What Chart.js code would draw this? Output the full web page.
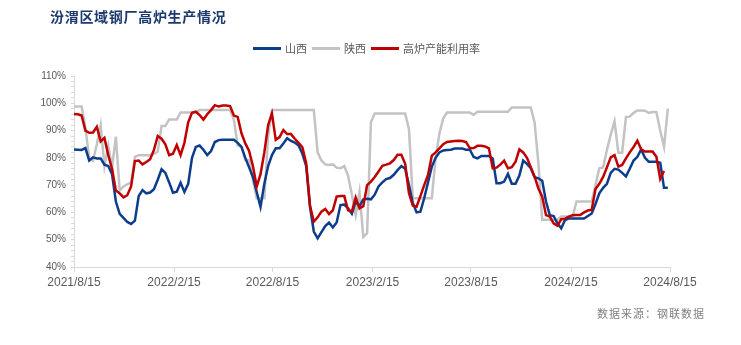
<!DOCTYPE html>
<html>
<head>
<meta charset="utf-8">
<title>汾渭区域钢厂高炉生产情况</title>
<script src="https://cdn.jsdelivr.net/npm/chart.js@4.4.1/dist/chart.umd.min.js"></script>
<style>
    html, body { margin: 0; padding: 0; background: #fff; }
    #wrap { position: relative; width: 741px; height: 345px; overflow: hidden; font-family: "Noto Sans CJK SC", sans-serif; }
    #chart { position: absolute; left: 0; top: 0; }
    #title { position: absolute; left: 50px; top: 9px; font-size: 14px; line-height: 14px; font-weight: 700; color: #1d3a6f; letter-spacing: 0.7px; white-space: nowrap; }
    #legend { position: absolute; left: 253px; top: 42px; display: flex; align-items: center; font-size: 11px; line-height: 12px; color: #595959; white-space: nowrap; }
    #legend .item { display: flex; align-items: center; margin-right: 5px; }
    #legend .swatch { width: 28px; height: 3px; margin-right: 4px; }
    #source { position: absolute; left: 597px; top: 307px; font-size: 11px; line-height: 12px; color: #808080; letter-spacing: 1px; white-space: nowrap; }
</style>
</head>
<body>
<div id="wrap">
    <canvas id="chart" width="741" height="345"></canvas>
    <div id="title">汾渭区域钢厂高炉生产情况</div>
    <div id="legend"></div>
    <div id="source">数据来源：钢联数据</div>
</div>
<script>
// 周度数据，起点 2021/8/15，每周一个点（单位：%）
const seriesNames = ['山西', '陕西', '高炉产能利用率'];
const seriesColors = ['#0c3d8c', '#c3c3c3', '#c00000'];

const tickLabels = ['2021/8/15', '2022/2/15', '2022/8/15', '2023/2/15', '2023/8/15', '2024/2/15', '2024/8/15'];
const tickDays = [0, 184, 365, 549, 730, 914, 1096];

const shanxi = [
    83.1, 83, 82.9, 83.6, 79, 80.2, 79.8, 79.8, 77.5, 77,
    74, 64, 59.5, 58, 56.5, 55.8, 57, 66, 68.2, 67,
    67.3, 68.5, 72, 75.8, 74.5, 71, 67.2, 67.6, 70.9, 67.5,
    70.5, 80, 84, 84.5, 83, 81, 82.5, 85.8, 86.5, 86.6,
    86.6, 86.6, 86.6, 85.5, 84, 80, 76.5, 73, 67.5, 62,
    70.5, 77, 81, 83.5, 83.5, 85.3, 87.2, 86.2, 85.6, 84.5,
    81.5, 77, 62, 53, 50.5, 52.8, 55, 56.3, 54.5, 56.3,
    62.7, 62.9, 61.5, 59.5, 64, 62.3, 64.8, 65, 64.8, 66.5,
    69.5, 71, 72.2, 72.6, 73.8, 75.5, 77, 76, 70, 63.5,
    60, 60.3, 65.2, 71, 76.8, 80, 82, 82.7, 82.9, 83,
    83.4, 83.4, 83.4, 83, 83, 80.3, 79.8, 80.7, 80.7, 80.7,
    79.8, 70.7, 70.7, 71.3, 74.1, 70.5, 70.5, 73.5, 79, 77.8,
    76.2, 72.9, 72.5, 71.6, 64, 59, 58.7, 56, 54.2, 57.2,
    57.8, 57.8, 57.8, 57.8, 57.8, 58.7, 59.6, 63.1, 67, 69,
    70.5, 74.5, 76, 75.7, 74.5, 73.2, 76, 79, 80.4, 83.1,
    80, 78.6, 78.6, 78.6, 78.2, 69, 69
];

const shaanxi = [
    98.8, 98.8, 98.8, 91, 80, 79, 85, 92, 77, 84.4,
    76.5, 87.8, 68, 69.5, 70.3, 71, 80.4, 81, 81, 81,
    81, 81.5, 82.3, 91.7, 91.7, 94.1, 94.1, 94.1, 96.6, 96.6,
    96.6, 96.6, 96.6, 97.5, 97.5, 97.5, 97.5, 97.5, 97.5, 97.5,
    97.5, 97.5, 94, 84.5, 84, 79.2, 79.2, 72, 65.2, 65.2,
    65.2, 88, 97.5, 97.5, 97.5, 97.5, 97.5, 97.5, 97.5, 97.5,
    97.5, 97.5, 97.5, 97.5, 82, 79, 77.6, 77.4, 77.6, 76.4,
    76.2, 77, 73.5, 66.5, 59, 67.5, 51, 52.4, 93, 96.3,
    96.3, 96.3, 96.3, 96.3, 96.3, 96.3, 96.3, 96.3, 90.5, 65.2,
    65.2, 65.2, 65.2, 65.2, 65.2, 80, 89, 94.5, 96.6, 96.6,
    96.6, 96.6, 96.6, 96.6, 96.6, 95.8, 96.9, 96.9, 96.9, 96.9,
    96.9, 96.9, 96.9, 96.9, 96.9, 98.5, 98.5, 98.5, 98.5, 98.5,
    98.5, 93, 78, 57.3, 57.3, 57.3, 57.3, 57.3, 58.5, 58.5,
    58.5, 58.5, 64, 64, 64, 64, 64, 70, 76.2, 76.5,
    82.9, 88.5, 93.4, 81.9, 81.9, 95, 95.1, 96.5, 97.4, 97.4,
    97.3, 96.5, 96.8, 96.8, 90, 84, 98
];

const utilization = [
    96.1, 96, 95.5, 90, 89.2, 89.3, 91.4, 86, 87.3, 81,
    76, 68, 67, 65.5, 66.3, 69.5, 78.8, 79, 77.6, 78.5,
    79.5, 82.9, 88, 87, 85, 81, 81.5, 84.7, 81, 85.5,
    93, 96.5, 96.9, 95.7, 94, 96, 97.5, 99.3, 98.8, 99.2,
    99.2, 99, 95.5, 95, 89, 85.3, 82.5, 77, 69.5, 74,
    82, 92, 96.3, 86.6, 87.6, 90.2, 88.7, 88.7, 87, 85.5,
    83.9, 78, 62.5, 56.6, 58.2, 60.3, 61.3, 59.4, 60.8, 65.8,
    66, 66, 60.8, 60.3, 65.5, 61.5, 62.3, 70, 71.3, 73,
    75, 77.1, 77.5, 78, 79.2, 81.1, 81.1, 77.8, 67, 62.5,
    62.1, 66, 70, 73.7, 80.8, 82, 83.5, 85, 85.8, 86,
    86.2, 86.3, 86.2, 85.8, 83.5, 83.6, 84.4, 84.4, 84.2, 83.5,
    76.2, 76.4, 77.5, 79, 76.2, 76.6, 78.6, 83.1, 82, 80,
    76.6, 73.1, 68.8, 65.8, 59, 58.5, 56, 55.1, 57.5, 57.7,
    58.5, 59, 59.1, 59.1, 60, 60.7, 61, 68.6, 70.5, 73,
    76.5, 80.2, 81, 76.8, 77.4, 79.8, 82, 84, 86.3, 83.1,
    82.3, 82.3, 82.3, 80.4, 72.3, 75.2
];

const labelColor = '#595959';
const axisColor = '#d9d9d9';

function toPoints(values) {
    return values.map((v, i) => ({ x: i * 7, y: v }));
}

function makeDataset(values, idx, order) {
    return {
        label: seriesNames[idx],
        data: toPoints(values),
        borderColor: seriesColors[idx],
        backgroundColor: seriesColors[idx],
        borderWidth: 2.5,
        pointRadius: 0,
        tension: 0,
        order: order
    };
}

function renderLegend() {
    const box = document.getElementById('legend');
    seriesNames.forEach((name, i) => {
        const item = document.createElement('div');
        item.className = 'item';
        item.innerHTML = `<span class="swatch" style="background:${seriesColors[i]}"></span><span>${name}</span>`;
        box.appendChild(item);
    });
}

function renderChart() {
    const ctx = document.getElementById('chart').getContext('2d');
    new Chart(ctx, {
        type: 'line',
        data: {
            datasets: [
                makeDataset(shanxi, 0, 1),
                makeDataset(shaanxi, 1, 2),
                makeDataset(utilization, 2, 0)
            ]
        },
        options: {
            responsive: false,
            animation: false,
            devicePixelRatio: 1,
            layout: { padding: { left: 0, right: 71, top: 76, bottom: 48 } },
            plugins: {
                legend: { display: false },
                title: { display: false },
                tooltip: { enabled: false }
            },
            scales: {
                x: {
                    type: 'linear',
                    min: tickDays[0],
                    max: tickDays[tickDays.length - 1],
                    afterBuildTicks: scale => { scale.ticks = tickDays.map(v => ({ value: v })); },
                    afterFit: scale => { scale.height = 30; },
                    grid: { drawOnChartArea: false, tickLength: 5, color: axisColor },
                    border: { color: axisColor },
                    ticks: {
                        autoSkip: false,
                        maxRotation: 0,
                        padding: 3,
                        color: labelColor,
                        font: { family: 'Liberation Sans, Arial, sans-serif', size: 12 },
                        callback: v => tickLabels[tickDays.indexOf(v)] || ''
                    }
                },
                y: {
                    min: 40,
                    max: 110,
                    afterFit: scale => { scale.width = 74; },
                    grid: { drawOnChartArea: false, tickLength: 3, color: axisColor },
                    border: { color: axisColor },
                    ticks: {
                        stepSize: 2,
                        autoSkip: false,
                        padding: 5,
                        color: labelColor,
                        font: { family: 'Liberation Sans, Arial, sans-serif', size: 10 },
                        callback: v => (v % 10 === 0 ? v + '%' : '')
                    }
                }
            }
        }
    });
}

renderLegend();
renderChart();
</script>
</body>
</html>
